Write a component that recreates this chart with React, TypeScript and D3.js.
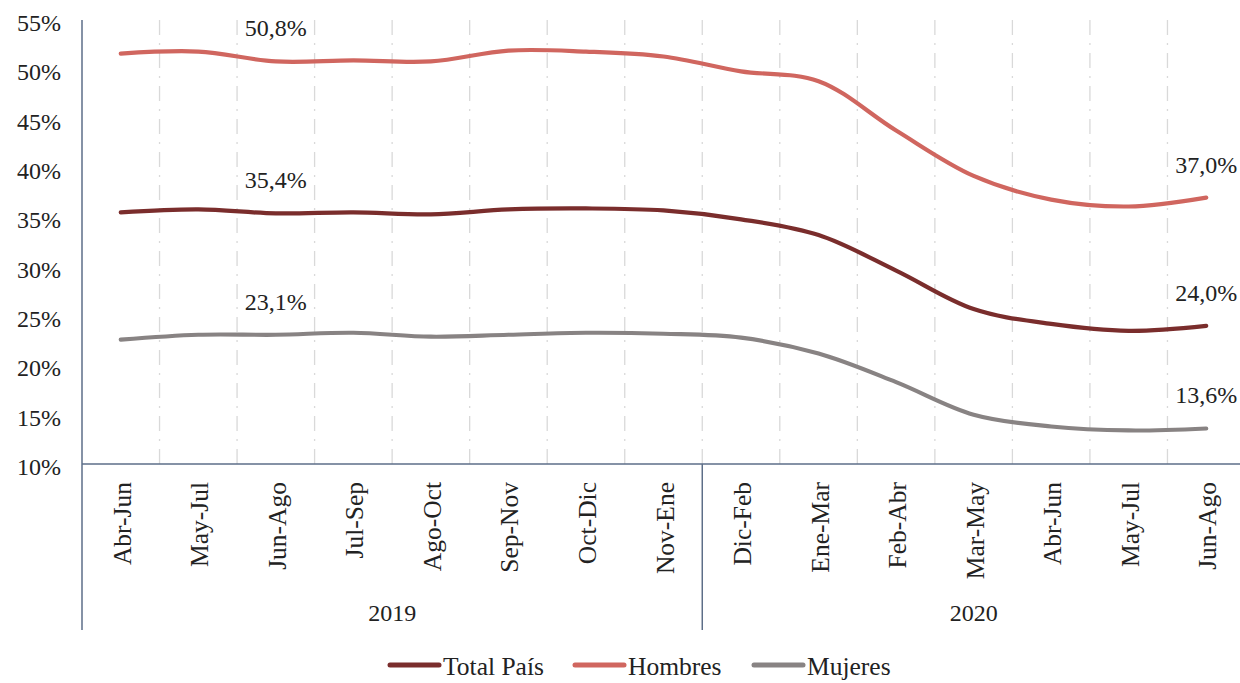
import React from "react";
import * as d3 from "d3";

const categories = [
  "Abr-Jun", "May-Jul", "Jun-Ago", "Jul-Sep", "Ago-Oct", "Sep-Nov", "Oct-Dic", "Nov-Ene",
  "Dic-Feb", "Ene-Mar", "Feb-Abr", "Mar-May", "Abr-Jun", "May-Jul", "Jun-Ago",
];
const years = [
  { label: "2019", count: 8 },
  { label: "2020", count: 7 },
];
const totalPais = [35.5, 35.8, 35.4, 35.5, 35.3, 35.8, 35.9, 35.7, 34.8, 33.2, 29.6, 25.7, 24.2, 23.5, 24.0];
const hombres = [51.6, 51.8, 50.8, 50.9, 50.8, 51.9, 51.8, 51.3, 49.8, 48.8, 43.8, 39.2, 36.8, 36.1, 37.0];
const mujeres = [22.6, 23.1, 23.1, 23.3, 22.9, 23.1, 23.3, 23.2, 22.8, 21.2, 18.3, 15.0, 13.8, 13.4, 13.6];
const yTicks = [10, 15, 20, 25, 30, 35, 40, 45, 50, 55];
const labelIndices = [2, 14];

const series = [
  { name: "Total País", values: totalPais, color: "#7a2d2c" },
  { name: "Hombres", values: hombres, color: "#d0665f" },
  { name: "Mujeres", values: mujeres, color: "#888383" },
];

const fmt = (v: number) => v.toFixed(1).replace(".", ",") + "%";

export default function App() {
  const W = 1240;
  const H = 683;
  const left = 82;
  const right = 1245;
  const top = 20;
  const bottom = 464;
  const catBottom = 630;
  const axisColor = "#5d6e88";
  const font = "'Liberation Serif', 'Times New Roman', serif";
  const fs = 24;
  const fsCat = 25.5;

  const x = d3.scaleBand<number>().domain(categories.map((_, i) => i)).range([left, right]).padding(0);
  const y = d3.scaleLinear().domain([10, 55]).range([bottom, top]);
  const cx = (i: number) => (x(i) as number) + x.bandwidth() / 2;

  const line = d3
    .line<number>()
    .x((_, i) => cx(i))
    .y((d) => y(d))
    .curve(d3.curveCatmullRom.alpha(0.5));

  const boundaries = d3.range(1, categories.length).map((i) => x(i) as number);
  let acc = 0;
  const yearGroups = years.map((g) => {
    const start = acc;
    acc += g.count;
    const x0 = x(start) as number;
    const x1 = (x(acc - 1) as number) + x.bandwidth();
    return { ...g, x0, x1 };
  });

  const legendStarts = [388, 573, 752];

  return (
    <svg width={W} height={H} style={{ position: "absolute", left: 0, top: 0, background: "#fff", fontFamily: font }}>
      <rect x={0} y={0} width={W} height={H} fill="#fff" />
      {boundaries.map((bx, i) => (
        <line key={i} x1={bx} x2={bx} y1={top} y2={bottom} stroke="#d9d9d9" strokeWidth={1.3} strokeDasharray="15,8,2,8" />
      ))}
      {yTicks.map((t) => (
        <text key={t} x={61} y={y(t) + 11} textAnchor="end" fontSize={fs} fill="#222">
          {t}%
        </text>
      ))}
      <line x1={left} x2={left} y1={top} y2={catBottom} stroke={axisColor} strokeWidth={1.5} />
      <line x1={left} x2={right} y1={bottom} y2={bottom} stroke={axisColor} strokeWidth={1.5} />
      {yearGroups.slice(1).map((g) => (
        <line key={g.label} x1={g.x0} x2={g.x0} y1={bottom} y2={catBottom} stroke={axisColor} strokeWidth={1.5} />
      ))}
      {categories.map((c, i) => (
        <text
          key={i}
          transform={`translate(${cx(i) + 10},${482}) rotate(-90)`}
          textAnchor="end"
          fontSize={fsCat}
          fill="#222"
        >
          {c}
        </text>
      ))}
      {yearGroups.map((g) => (
        <text key={g.label} x={(g.x0 + g.x1) / 2} y={621} textAnchor="middle" fontSize={fs} fill="#222">
          {g.label}
        </text>
      ))}
      {series.map((s) => (
        <path key={s.name} d={line(s.values) as string} fill="none" stroke={s.color} strokeWidth={4.2} strokeLinecap="round" />
      ))}
      {series.map((s) =>
        labelIndices.map((i) => (
          <text key={s.name + i} x={cx(i)} y={y(s.values[i]) - 25} textAnchor="middle" fontSize={fs} fill="#222">
            {fmt(s.values[i])}
          </text>
        ))
      )}
      {series.map((s, k) => (
        <g key={s.name} transform={`translate(${legendStarts[k]},0)`}>
          <line x1={2} x2={51} y1={665} y2={665} stroke={s.color} strokeWidth={5} strokeLinecap="round" />
          <text x={55} y={675} fontSize={fsCat} fill="#222">
            {s.name}
          </text>
        </g>
      ))}
    </svg>
  );
}
